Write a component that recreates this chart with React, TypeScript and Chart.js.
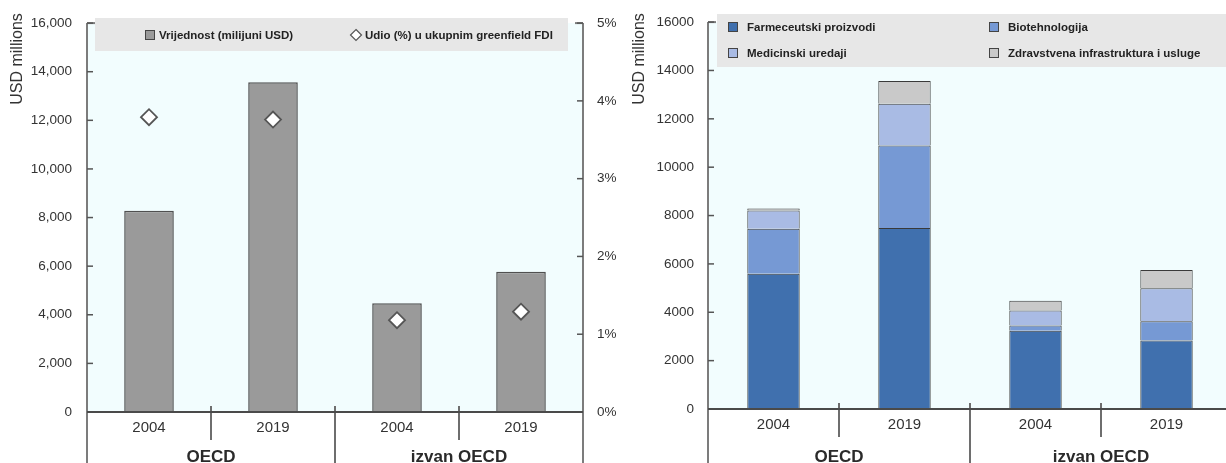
import React, { useEffect, useRef } from "react";
import { Chart, registerables } from "chart.js";

Chart.register(...registerables);

// ---------------- data ----------------
const years = ["2004", "2019", "2004", "2019"];
const groups = ["OECD", "izvan OECD"];

const valueLabel = "Vrijednost (milijuni USD)";
const shareLabel = "Udio (%) u ukupnim greenfield FDI";
const totalValue = [8280, 13570, 4470, 5770];
const shareOfFDI = [3.79, 3.76, 1.18, 1.29];

const sectorNames = [
  "Farmeceutski proizvodi",
  "Biotehnologija",
  "Medicinski uredaji",
  "Zdravstvena infrastruktura i usluge",
];
const pharma = [5590, 7480, 3240, 2830];
const biotech = [1860, 3420, 210, 800];
const medDevices = [760, 1720, 620, 1360];
const healthInfra = [80, 940, 410, 760];

const axisTitle = "USD millions";

// ---------------- styles ----------------
const FONT = "'Liberation Sans', Arial, sans-serif";
const BOLD_FONT = "'Liberation Sans', Arial, sans-serif";
const LEG_FONT = "bold 11.5px 'Liberation Sans', Arial, sans-serif";
const PLOT_BG = "#f2fdfe";
const LEG_BG = "#e7e7e7";
const TEXT = "#333333";
const sectorColors = ["#4070ae", "#7699d4", "#a9bbe4", "#c9c9c9"];
const grayBar = "#9a9a9a";

type LegendItem = {
  x: number;
  y: number;
  label: string;
  kind: "square" | "diamond";
  fill: string;
  stroke: string;
};

type DecorCfg = {
  titleX: number;
  titleY: number;
  box: { x: number; y: number; w: number; h: number };
  items: LegendItem[];
  rightAxis: boolean;
  textOffset: number;
};

function makeDecor(cfg: DecorCfg) {
  return {
    id: "decor",
    beforeDraw(chart: any) {
      const { ctx, chartArea: ca } = chart;
      ctx.save();
      ctx.fillStyle = PLOT_BG;
      ctx.fillRect(ca.left, ca.top, ca.right - ca.left, ca.bottom - ca.top);
      ctx.restore();
    },
    afterDraw(chart: any) {
      const { ctx, chartArea: ca, height } = chart;
      const xs = chart.scales.x;
      const ys = chart.scales.y;
      const line = (x1: number, y1: number, x2: number, y2: number) => {
        ctx.beginPath();
        ctx.moveTo(x1, y1);
        ctx.lineTo(x2, y2);
        ctx.stroke();
      };
      ctx.save();
      // vertical axes
      ctx.strokeStyle = "#7c7c7c";
      ctx.lineWidth = 2;
      line(ca.left, ca.top, ca.left, height);
      line(ca.left, ca.top, ca.left + 8, ca.top);
      if (cfg.rightAxis) {
        line(ca.right, ca.top, ca.right, height);
        line(ca.right, ca.top, ca.right - 8, ca.top);
      }
      // inward tick marks
      ctx.strokeStyle = "#555";
      ctx.lineWidth = 1.5;
      ys.ticks.forEach((t: any) => {
        const py = ys.getPixelForValue(t.value);
        line(ca.left, py, ca.left + 6, py);
      });
      if (cfg.rightAxis && chart.scales.y1) {
        const y1 = chart.scales.y1;
        y1.ticks.forEach((t: any) => {
          const py = y1.getPixelForValue(t.value);
          line(ca.right - 6, py, ca.right, py);
        });
      }
      // category separators
      ctx.strokeStyle = "#6e6e6e";
      ctx.lineWidth = 2;
      const n = years.length;
      const per = n / groups.length;
      for (let i = 1; i < n; i++) {
        const px = (xs.getPixelForValue(i - 1) + xs.getPixelForValue(i)) / 2;
        const groupEdge = i % per === 0;
        line(px, ca.bottom - 6, px, groupEdge ? height : ca.bottom + 28);
      }
      // zero line
      ctx.strokeStyle = "#4a4a4a";
      ctx.lineWidth = 2;
      line(ca.left, ca.bottom, ca.right, ca.bottom);

      // legend
      ctx.fillStyle = LEG_BG;
      ctx.fillRect(cfg.box.x, cfg.box.y, cfg.box.w, cfg.box.h);
      ctx.font = LEG_FONT;
      ctx.textBaseline = "middle";
      ctx.textAlign = "left";
      cfg.items.forEach((it) => {
        ctx.lineWidth = 1;
        if (it.kind === "square") {
          ctx.fillStyle = it.fill;
          ctx.strokeStyle = it.stroke;
          ctx.fillRect(it.x - 4.5, it.y - 4.5, 9, 9);
          ctx.strokeRect(it.x - 4.5, it.y - 4.5, 9, 9);
        } else {
          ctx.fillStyle = it.fill;
          ctx.strokeStyle = it.stroke;
          ctx.lineWidth = 1.2;
          ctx.beginPath();
          ctx.moveTo(it.x, it.y - 5.5);
          ctx.lineTo(it.x + 5.5, it.y);
          ctx.lineTo(it.x, it.y + 5.5);
          ctx.lineTo(it.x - 5.5, it.y);
          ctx.closePath();
          ctx.fill();
          ctx.stroke();
        }
        ctx.fillStyle = "#222";
        ctx.fillText(it.label, it.x + cfg.textOffset, it.y + 0.5);
      });

      // rotated axis title
      ctx.translate(cfg.titleX, cfg.titleY);
      ctx.rotate(-Math.PI / 2);
      ctx.textAlign = "center";
      ctx.textBaseline = "middle";
      ctx.font = `16px ${FONT}`;
      ctx.fillStyle = TEXT;
      ctx.fillText(axisTitle, 0, 0);
      ctx.restore();
    },
  };
}

function xScales(xHeight: number) {
  return {
    x: {
      type: "category",
      labels: years,
      position: "bottom",
      offset: true,
      weight: 0,
      grid: { display: false, drawTicks: false },
      border: { display: false },
      ticks: {
        font: { family: FONT, size: 15 },
        color: TEXT,
        padding: 7,
        autoSkip: false,
        maxRotation: 0,
      },
      afterFit: (s: any) => {
        s.height = xHeight;
      },
    },
    x2: {
      type: "category",
      labels: groups,
      position: "bottom",
      offset: true,
      weight: 1,
      grid: { display: false, drawTicks: false },
      border: { display: false },
      ticks: {
        font: { family: BOLD_FONT, size: 17, weight: "bold" },
        color: "#2a2a2a",
        padding: 5,
        autoSkip: false,
        maxRotation: 0,
      },
      afterFit: (s: any) => {
        s.height = 21;
      },
    },
  };
}

const tickFont = { family: FONT, size: 13.5 };

function LeftChart() {
  const ref = useRef<HTMLCanvasElement>(null);
  useEffect(() => {
    if (!ref.current) return;
    const chart = new Chart(ref.current, {
      type: "bar",
      data: {
        labels: years,
        datasets: [
          {
            type: "line",
            label: shareLabel,
            data: shareOfFDI,
            yAxisID: "y1",
            showLine: false,
            pointStyle: "rectRot",
            pointRadius: 8,
            pointBackgroundColor: "#ffffff",
            pointBorderColor: "#555555",
            pointBorderWidth: 1.8,
            order: 0,
          } as any,
          {
            type: "bar",
            label: valueLabel,
            data: totalValue,
            yAxisID: "y",
            backgroundColor: grayBar,
            borderColor: "#505050",
            borderWidth: 1.5,
            barPercentage: 0.4,
            categoryPercentage: 1,
            order: 1,
          },
        ],
      },
      options: {
        responsive: false,
        maintainAspectRatio: false,
        animation: false,
        events: [],
        layout: { padding: { top: 21, left: 0, right: 0, bottom: 0 } },
        plugins: { legend: { display: false }, tooltip: { enabled: false } },
        scales: {
          ...xScales(30),
          y: {
            position: "left",
            min: 0,
            max: 16000,
            grid: { display: false, drawTicks: false },
            border: { display: false },
            ticks: {
              stepSize: 2000,
              padding: 15,
              font: tickFont,
              color: TEXT,
            },
            afterFit: (s: any) => {
              s.width = 87;
            },
          },
          y1: {
            position: "right",
            min: 0,
            max: 5,
            grid: { display: false, drawTicks: false },
            border: { display: false },
            ticks: {
              stepSize: 1,
              padding: 14,
              font: tickFont,
              color: TEXT,
              callback: (v: any) => `${v}%`,
            },
            afterFit: (s: any) => {
              s.width = 47;
            },
          },
        } as any,
      },
      plugins: [
        makeDecor({
          titleX: 18,
          titleY: 59,
          box: { x: 95, y: 18, w: 473, h: 33 },
          rightAxis: true,
          textOffset: 9,
          items: [
            { x: 150, y: 35, label: valueLabel, kind: "square", fill: grayBar, stroke: "#444" },
            { x: 356, y: 35, label: shareLabel, kind: "diamond", fill: "#ffffff", stroke: "#555" },
          ],
        }),
      ],
    });
    return () => chart.destroy();
  }, []);
  return <canvas ref={ref} width={630} height={463} style={{ width: 630, height: 463, display: "block" }} />;
}

function RightChart() {
  const ref = useRef<HTMLCanvasElement>(null);
  useEffect(() => {
    if (!ref.current) return;
    const series = [pharma, biotech, medDevices, healthInfra];
    const chart = new Chart(ref.current, {
      type: "bar",
      data: {
        labels: years,
        datasets: series.map((d, i) => ({
          label: sectorNames[i],
          data: d,
          backgroundColor: sectorColors[i],
          borderColor: "#3a3a3a",
          borderWidth: 1,
          barPercentage: 0.4,
          categoryPercentage: 1,
          stack: "s",
        })),
      },
      options: {
        responsive: false,
        maintainAspectRatio: false,
        animation: false,
        events: [],
        layout: { padding: { top: 21, left: 0, right: 21, bottom: 0 } },
        plugins: { legend: { display: false }, tooltip: { enabled: false } },
        scales: {
          ...xScales(33),
          y: {
            position: "left",
            stacked: true,
            min: 0,
            max: 16000,
            grid: { display: false, drawTicks: false },
            border: { display: false },
            ticks: {
              stepSize: 2000,
              padding: 14,
              font: tickFont,
              color: TEXT,
              callback: (v: any) => String(v),
            },
            afterFit: (s: any) => {
              s.width = 95;
            },
          },
        } as any,
      },
      plugins: [
        makeDecor({
          titleX: 27,
          titleY: 59,
          box: { x: 104, y: 14, w: 600, h: 53 },
          rightAxis: false,
          textOffset: 14,
          items: sectorNames.map((name, i) => ({
            x: i % 2 === 0 ? 120 : 381,
            y: i < 2 ? 27 : 53,
            label: name,
            kind: "square" as const,
            fill: sectorColors[i],
            stroke: "#444",
          })),
        }),
      ],
    });
    (chart.options.scales as any).x.stacked = true;
    chart.update();
    return () => chart.destroy();
  }, []);
  return <canvas ref={ref} width={640} height={463} style={{ width: 640, height: 463, display: "block" }} />;
}

export default function App() {
  return (
    <div
      style={{
        position: "absolute",
        left: 0,
        top: 0,
        width: 1226,
        height: 463,
        overflow: "hidden",
        background: "#ffffff",
      }}
    >
      <div style={{ position: "absolute", left: 613, top: 0, width: 613, height: 463, overflow: "hidden" }}>
        <RightChart />
      </div>
      <div style={{ position: "absolute", left: 0, top: 0, width: 630, height: 463, pointerEvents: "none" }}>
        <LeftChart />
      </div>
    </div>
  );
}
